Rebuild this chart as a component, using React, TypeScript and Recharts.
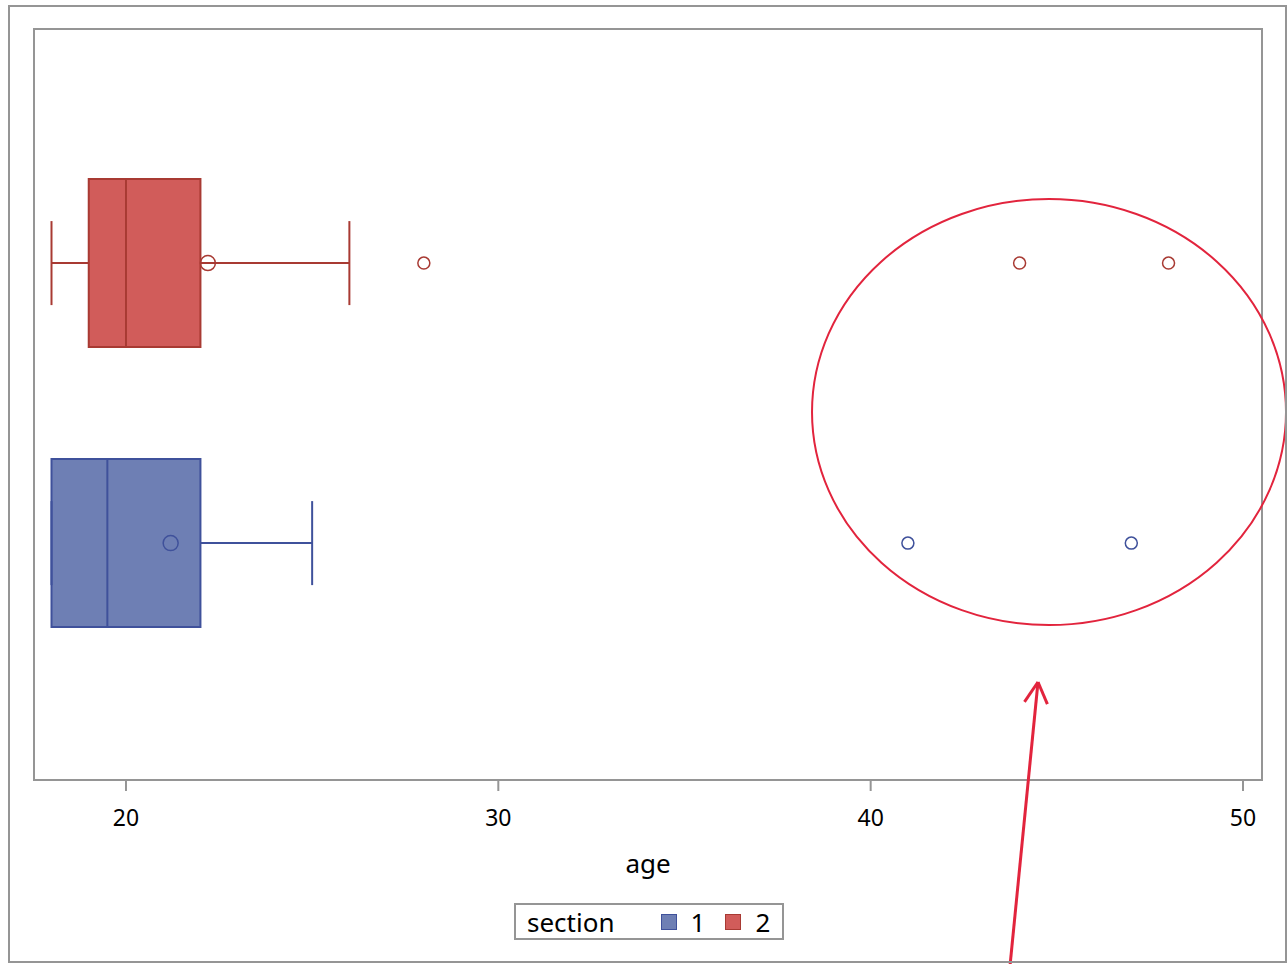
import {
  ScatterChart,
  Scatter,
  XAxis,
  YAxis,
  ReferenceArea,
  ReferenceLine,
  ReferenceDot,
} from 'recharts'

// summary statistics per section (age)
const sections = ['1', '2']
const sectionPos = [1, 2]
const minVals = [18, 18]
const q1Vals = [18, 19]
const medians = [19.5, 20]
const q3Vals = [22, 22]
const maxVals = [25, 26]
const means = [21.2, 22.2]
const outliers = [
  [41, 47],
  [28, 44, 48],
]
const xTicks = [20, 30, 40, 50]

const fills = ['#6e7fb4', '#d15c5a']
const strokes = ['#3f519b', '#a83a33']
const frameGray = '#959595'
const noteRed = '#e2243d'

const X_DOMAIN: [number, number] = [17.53, 50.51]
const Y_DOMAIN: [number, number] = [0.154, 2.836]
const BOX_HALF = 0.3
const CAP_HALF = 0.15

const fontFamily = '"Noto Sans", "DejaVu Sans", sans-serif'

const meanData = (i: number) => [{ x: means[i], y: sectionPos[i] }]
const outlierData = (i: number) => outliers[i].map((x) => ({ x, y: sectionPos[i] }))

const hollow = (r: number, color: string) => (p: any) => (
  <circle cx={p.cx} cy={p.cy} r={r} fill="none" stroke={color} strokeWidth={1.5} />
)

export default function App() {
  return (
    <div
      style={{
        position: 'fixed',
        left: 0,
        top: 0,
        width: 1288,
        height: 964,
        overflow: 'hidden',
        background: '#fff',
        fontFamily,
      }}
    >
      <style>{'html, body { margin: 0; overflow: hidden; }'}</style>
      <div style={{ position: 'absolute', left: 0, top: 0 }}>
        <ScatterChart
          width={1288}
          height={964}
          margin={{ top: 29, right: 26, bottom: 84, left: 34 }}
        >
          <XAxis
            type="number"
            dataKey="x"
            domain={X_DOMAIN}
            ticks={xTicks}
            allowDataOverflow
            height={100}
            axisLine={false}
            tickLine={{ stroke: frameGray, strokeWidth: 2 }}
            tickSize={11}
            tickMargin={19}
            tick={{ fill: '#000', fontSize: 23, fontFamily }}
            label={{
              value: 'age',
              position: 'insideBottom',
              offset: 7,
              fill: '#000',
              fontSize: 26,
              fontFamily,
            }}
          />
          <YAxis type="number" dataKey="y" domain={Y_DOMAIN} allowDataOverflow hide />

          {/* plot frame */}
          <ReferenceArea
            x1={X_DOMAIN[0]}
            x2={X_DOMAIN[1]}
            y1={Y_DOMAIN[0]}
            y2={Y_DOMAIN[1]}
            fill="none"
            stroke={frameGray}
            strokeWidth={2}
            ifOverflow="visible"
          />

          {/* boxes */}
          {sections.map((s, i) => (
            <ReferenceArea
              key={`box-${s}`}
              x1={q1Vals[i]}
              x2={q3Vals[i]}
              y1={sectionPos[i] - BOX_HALF}
              y2={sectionPos[i] + BOX_HALF}
              fill={fills[i]}
              fillOpacity={1}
              stroke={strokes[i]}
              strokeWidth={2}
              ifOverflow="visible"
            />
          ))}

          {/* medians, whiskers and caps */}
          {sections.flatMap((s, i) => {
            const y = sectionPos[i]
            const lineProps = { stroke: strokes[i], strokeWidth: 2, ifOverflow: 'visible' as const }
            return [
              <ReferenceLine
                key={`med-${s}`}
                segment={[
                  { x: medians[i], y: y - BOX_HALF },
                  { x: medians[i], y: y + BOX_HALF },
                ]}
                {...lineProps}
              />,
              <ReferenceLine
                key={`wl-${s}`}
                segment={[
                  { x: minVals[i], y },
                  { x: q1Vals[i], y },
                ]}
                {...lineProps}
              />,
              <ReferenceLine
                key={`wr-${s}`}
                segment={[
                  { x: q3Vals[i], y },
                  { x: maxVals[i], y },
                ]}
                {...lineProps}
              />,
              <ReferenceLine
                key={`cl-${s}`}
                segment={[
                  { x: minVals[i], y: y - CAP_HALF },
                  { x: minVals[i], y: y + CAP_HALF },
                ]}
                {...lineProps}
              />,
              <ReferenceLine
                key={`cr-${s}`}
                segment={[
                  { x: maxVals[i], y: y - CAP_HALF },
                  { x: maxVals[i], y: y + CAP_HALF },
                ]}
                {...lineProps}
              />,
            ]
          })}

          {/* means and outliers */}
          {sections.map((s, i) => (
            <Scatter
              key={`mean-${s}`}
              data={meanData(i)}
              shape={hollow(7.5, strokes[i])}
              isAnimationActive={false}
            />
          ))}
          {sections.map((s, i) => (
            <Scatter
              key={`out-${s}`}
              data={outlierData(i)}
              shape={hollow(6, strokes[i])}
              isAnimationActive={false}
            />
          ))}

          {/* highlight of the far outliers */}
          <ReferenceDot
            x={44.79}
            y={1.468}
            ifOverflow="visible"
            shape={(p: any) => (
              <ellipse cx={p.cx} cy={p.cy} rx={237} ry={213} fill="none" stroke={noteRed} strokeWidth={2} />
            )}
          />
          <ReferenceLine
            segment={[
              { x: 43.742, y: -0.51 },
              { x: 44.494, y: 0.504 },
            ]}
            ifOverflow="visible"
            shape={(p: any) => {
              const { x1, y1, x2, y2 } = p
              const ang = Math.atan2(y2 - y1, x2 - x1)
              const len = 24
              const spread = 0.5
              const a1 = ang + Math.PI - spread
              const a2 = ang + Math.PI + spread
              return (
                <g stroke={noteRed} strokeWidth={3} fill="none">
                  <line x1={x1} y1={y1} x2={x2} y2={y2} />
                  <line x1={x2} y1={y2} x2={x2 + len * Math.cos(a1)} y2={y2 + len * Math.sin(a1)} />
                  <line x1={x2} y1={y2} x2={x2 + len * Math.cos(a2)} y2={y2 + len * Math.sin(a2)} />
                </g>
              )
            }}
          />
        </ScatterChart>
      </div>

      {/* outer frame */}
      <div
        style={{
          position: 'absolute',
          left: 8,
          top: 5,
          width: 1279,
          height: 958,
          border: `2px solid ${frameGray}`,
          boxSizing: 'border-box',
          pointerEvents: 'none',
        }}
      />

      {/* legend */}
      <div
        style={{
          position: 'absolute',
          left: 514,
          top: 903,
          width: 270,
          height: 37,
          border: `2px solid ${frameGray}`,
          boxSizing: 'border-box',
          display: 'flex',
          alignItems: 'center',
          fontSize: 26,
          color: '#000',
          paddingLeft: 11,
          background: '#fff',
        }}
      >
        <span style={{ marginRight: 46 }}>section</span>
        {sections.map((s, i) => (
          <span key={s} style={{ display: 'flex', alignItems: 'center', marginRight: 20 }}>
            <span
              style={{
                display: 'inline-block',
                width: 16,
                height: 16,
                background: fills[i],
                border: `1px solid ${strokes[i]}`,
                boxSizing: 'border-box',
                marginRight: 14,
              }}
            />
            <span>{s}</span>
          </span>
        ))}
      </div>
    </div>
  )
}
